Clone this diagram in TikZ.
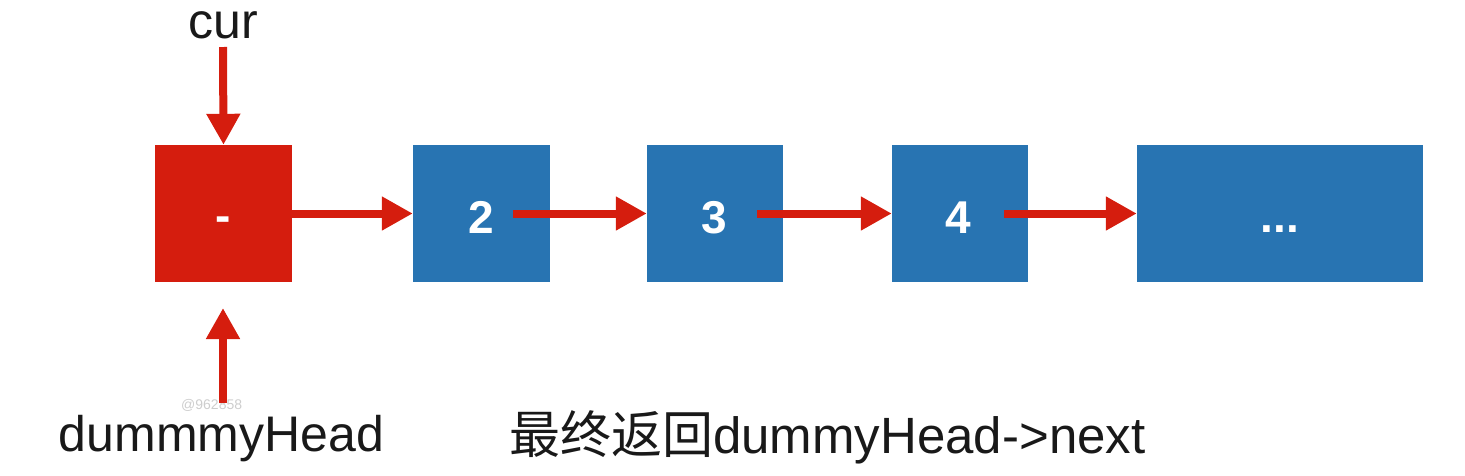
\documentclass[tikz,border=0pt]{standalone}
\usepackage{fontspec}
\setmainfont{Liberation Sans}
\newfontfamily\cjk{Noto Sans CJK SC}
\usetikzlibrary{arrows.meta}
\definecolor{nodered}{RGB}{213,29,14}
\definecolor{nodeblue}{RGB}{40,116,178}
\definecolor{wmgray}{RGB}{205,205,205}
\tikzset{
  box/.style={rectangle, inner sep=0pt, minimum height=137pt, draw=none},
  redbox/.style={box, fill=nodered, minimum width=137pt},
  bluebox/.style={box, fill=nodeblue, minimum width=137pt},
  num/.style={inner sep=0pt, text=white, font=\fontsize{46}{50}\selectfont\bfseries, anchor=base},
  lbl/.style={inner sep=0pt, text=black!90, font=\fontsize{50}{56}\selectfont, anchor=base},
  arr/.style={draw=nodered, line width=8pt, -{Triangle[length=31pt,width=32pt]}},
}
\begin{document}
\begin{tikzpicture}[x=1pt,y=-1pt]
\useasboundingbox (0,0) rectangle (1465,475);
% watermark
\node[inner sep=0pt, text=wmgray, font=\fontsize{14}{16}\selectfont, anchor=base west] (wm) at (181,409) {@962858};
% boxes
\node[redbox] (head) at (223.5,213.5) {};
\node[bluebox] (b2) at (481.5,213.5) {};
\node[bluebox, minimum width=136pt] (b3) at (715,213.5) {};
\node[bluebox, minimum width=136pt] (b4) at (960,213.5) {};
\node[bluebox, minimum width=286pt] (b5) at (1280,213.5) {};
% contents
\node[num] (t1) at (223.5,231) {-};
\node[num] (t2) at (481.5,233) {2};
\node[num] (t3) at (714.5,233) {3};
\node[num] (t4) at (958.5,233) {4};
\node[num] (t5) at (1280,232) {...};
% labels
\node[lbl] (cur) at (223,38) {cur};
\node[lbl] (dh) at (221.5,451) {dummmyHead};
\node[lbl, font=\fontsize{51}{56}\selectfont, anchor=base west] (ret) at (509,453) {{\cjk 最终返回}dummyHead->next};
% connector ends
\coordinate (c1) at (223,47);
\coordinate (d1) at (223,403);
\coordinate (d2) at (223,308);
\coordinate (s2) at (513,213.5);
\coordinate (s3) at (757,213.5);
\coordinate (s4) at (1004,213.5);
% connectors
\draw[arr] (c1) -- (head.north);
\draw[arr] (d1) -- (d2);
\draw[arr] (head.east) -- (b2.west);
\draw[arr] (s2) -- (b3.west);
\draw[arr] (s3) -- (b4.west);
\draw[arr] (s4) -- (b5.west);
\end{tikzpicture}
\end{document}
